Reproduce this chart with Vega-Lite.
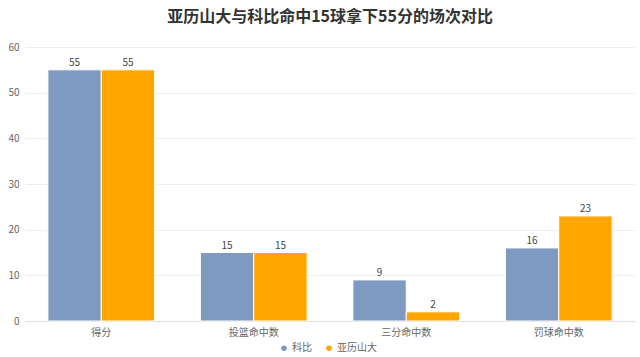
{
  "$schema": "https://vega.github.io/schema/vega-lite/v6.json",
  "autosize": {"type": "none"},
  "width": 610,
  "height": 274,
  "padding": {"left": 25, "top": 47, "right": 5, "bottom": 36},
  "background": "white",
  "title": {
    "text": "亚历山大与科比命中15球拿下55分的场次对比",
    "font": "Noto Sans CJK SC",
    "fontSize": 16,
    "fontWeight": "bold",
    "color": "#333333",
    "anchor": "middle",
    "offset": 17
  },
  "config": {
    "font": "Noto Sans CJK SC",
    "view": {"stroke": null}
  },
  "data": {
    "values": [
      {"cat": "得分", "player": "科比", "v": 55},
      {"cat": "得分", "player": "亚历山大", "v": 55},
      {"cat": "投篮命中数", "player": "科比", "v": 15},
      {"cat": "投篮命中数", "player": "亚历山大", "v": 15},
      {"cat": "三分命中数", "player": "科比", "v": 9},
      {"cat": "三分命中数", "player": "亚历山大", "v": 2},
      {"cat": "罚球命中数", "player": "科比", "v": 16},
      {"cat": "罚球命中数", "player": "亚历山大", "v": 23}
    ]
  },
  "encoding": {
    "x": {
      "field": "cat", "type": "nominal", "sort": null,
      "scale": {"paddingInner": 0.3, "paddingOuter": 0.15},
      "axis": {"title": null, "labelAngle": 0, "labelColor": "#666666", "labelFontSize": 10, "ticks": false, "domainColor": "#dddddd", "labelPadding": 6}
    },
    "xOffset": {"field": "player", "type": "nominal", "sort": ["科比", "亚历山大"], "scale": {"paddingInner": 0, "paddingOuter": 0}},
    "y": {
      "field": "v", "type": "quantitative",
      "scale": {"domain": [0, 60]},
      "axis": {"title": null, "values": [0, 10, 20, 30, 40, 50, 60], "labelColor": "#666666", "labelFontSize": 10, "ticks": false, "domain": false, "gridColor": "#eeeeee", "labelPadding": 6}
    }
  },
  "layer": [
    {
      "mark": {"type": "bar", "stroke": "white", "strokeWidth": 1},
      "encoding": {
        "color": {
          "field": "player", "type": "nominal", "sort": ["科比", "亚历山大"],
          "scale": {"domain": ["科比", "亚历山大"], "range": ["#7f9ac0", "#ffa500"]},
          "legend": {"title": null, "orient": "none", "legendX": 254, "legendY": 296, "direction": "horizontal", "symbolType": "circle", "symbolSize": 50, "labelFontSize": 10, "labelColor": "#666666", "columnPadding": 10, "labelOffset": 3}
        }
      }
    },
    {
      "mark": {"type": "text", "dy": -7, "fontSize": 10, "color": "#444444"},
      "encoding": {"text": {"field": "v", "type": "quantitative"}}
    }
  ]
}
